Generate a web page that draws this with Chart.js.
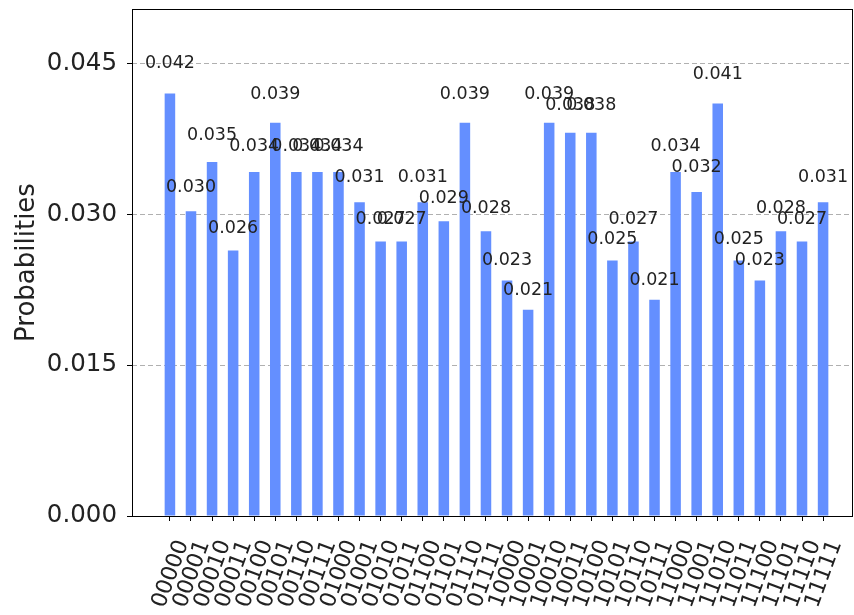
<!DOCTYPE html>
<html>
<head>
<meta charset="utf-8">
<script src="https://cdn.jsdelivr.net/npm/chart.js@4.4.0/dist/chart.umd.min.js"></script>
<style>
  html, body { margin: 0; padding: 0; background: #fff; }
  #wrap { width: 854px; height: 615px; }
</style>
</head>
<body>
<div id="wrap"><canvas id="mycanvas"></canvas></div>
<script>
// basis states, probabilities
var states = ['00000','00001','00010','00011','00100','00101','00110','00111',
              '01000','01001','01010','01011','01100','01101','01110','01111',
              '10000','10001','10010','10011','10100','10101','10110','10111',
              '11000','11001','11010','11011','11100','11101','11110','11111'];
var probs = [0.0420,0.0303,0.0352,0.0264,0.0342,0.0391,0.0342,0.0342,
             0.0342,0.0312,0.0273,0.0273,0.0312,0.0293,0.0391,0.0283,
             0.0234,0.0205,0.0391,0.0381,0.0381,0.0254,0.0273,0.0215,
             0.0342,0.0322,0.0410,0.0254,0.0234,0.0283,0.0273,0.0312];
var yTicks = [0, 0.015, 0.030, 0.045];

var FONT = 'DejaVu Sans';

var points = [];
for (var i in probs) {
	points.push({x: Number(i), y: probs[i]});
}

// value text above each bar, like ax.text(x, 1.05*h, '%.3f')
var barLabels = {
	id: 'barLabels',
	afterDatasetsDraw: function(chart) {
		var ctx = chart.ctx;
		var xs = chart.scales.x, ys = chart.scales.y;
		ctx.save();
		ctx.font = '17.5px "' + FONT + '"';
		ctx.fillStyle = '#222';
		ctx.textAlign = 'center';
		ctx.textBaseline = 'alphabetic';
		for (var i = 0; i < probs.length; i++) {
			ctx.fillText(probs[i].toFixed(3), xs.getPixelForValue(i), ys.getPixelForValue(probs[i] * 1.05) - 4);
		}
		ctx.restore();
	}
};

// x tick labels rotated 70deg, centred under the tick (matplotlib style)
var xLabels = {
	id: 'xLabels',
	afterDraw: function(chart) {
		var ctx = chart.ctx, xs = chart.scales.x;
		ctx.save();
		ctx.font = '22px "' + FONT + '"';
		ctx.fillStyle = '#222';
		ctx.textAlign = 'center';
		ctx.textBaseline = 'middle';
		for (var i = 0; i < states.length; i++) {
			ctx.save();
			ctx.translate(xs.getPixelForValue(i) + 1, 574);
			ctx.rotate(-70 * Math.PI / 180);
			ctx.fillText(states[i], 0, 0);
			ctx.restore();
		}
		ctx.restore();
	}
};

// black frame round the axes
var frame = {
	id: 'frame',
	afterDraw: function(chart) {
		var a = chart.chartArea, ctx = chart.ctx;
		ctx.save();
		ctx.strokeStyle = '#000';
		ctx.lineWidth = 1;
		ctx.strokeRect(Math.round(a.left) + 0.5, Math.round(a.top) + 0.5, Math.round(a.right - a.left) - 1, Math.round(a.bottom - a.top));
		ctx.restore();
	}
};

var ctx = document.getElementById('mycanvas');

var chart = new Chart(ctx, {
	type: 'bar',
	data: {
		datasets: [{
			data: points,
			backgroundColor: '#648fff',
			borderWidth: 0,
			barPercentage: 0.5,
			categoryPercentage: 1.0
		}]
	},
	options: {
		responsive: true,
		maintainAspectRatio: false,
		animation: false,
		layout: { padding: { top: 9, right: 1, left: 0, bottom: 0 } },
		plugins: {
			legend: { display: false },
			tooltip: { enabled: false }
		},
		scales: {
			x: {
				type: 'linear',
				offset: false,
				min: -1.8,
				max: 32.42,
				afterBuildTicks: function(scale) {
					scale.ticks = states.map(function(s, i) { return {value: i}; });
				},
				afterFit: function(scale) {
					scale.height = 99;
					scale.paddingLeft = 0;
					scale.paddingRight = 0;
				},
				border: { display: false },
				grid: { display: true, offset: false, drawOnChartArea: false, drawTicks: true, tickLength: 5, tickColor: '#000' },
				ticks: { display: false }
			},
			y: {
				min: 0,
				max: 0.0504,
				afterBuildTicks: function(scale) {
					scale.ticks = yTicks.map(function(v) { return {value: v}; });
				},
				afterFit: function(scale) {
					scale.width = 132;
					scale.paddingTop = 0;
					scale.paddingBottom = 0;
				},
				border: { display: false, dash: [5, 3] },
				grid: { color: '#b0b0b0', lineWidth: 1, tickLength: 5, tickColor: '#000', tickBorderDash: [] },
				title: {
					display: true,
					text: 'Probabilities',
					color: '#222',
					font: { family: FONT, size: 26 },
					padding: { top: 12, bottom: 0 }
				},
				ticks: {
					padding: 10,
					color: '#222',
					font: { family: FONT, size: 24.5 },
					callback: function(v) { return v.toFixed(3); }
				}
			}
		}
	},
	plugins: [barLabels, xLabels, frame]
});
</script>
</body>
</html>
